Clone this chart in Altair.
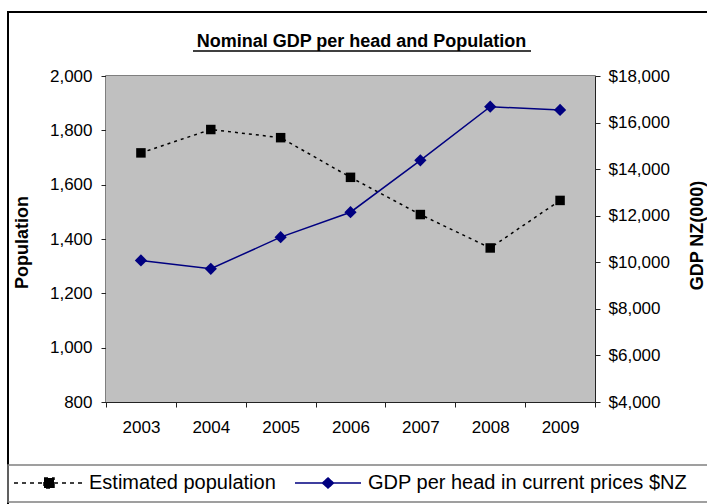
import altair as alt
import pandas as pd

years = ["2003", "2004", "2005", "2006", "2007", "2008", "2009"]
population = [1717, 1803, 1773, 1627, 1490, 1367, 1542]
gdp_per_head = [10080, 9720, 11080, 12150, 14380, 16680, 16540]
series_names = ["Estimated population", "GDP per head in current prices $NZ"]
series_colors = ["#000000", "#000080"]
pop_ticks = [800, 1000, 1200, 1400, 1600, 1800, 2000]
gdp_ticks = [4000, 6000, 8000, 10000, 12000, 14000, 16000, 18000]

FONT = "Liberation Sans"
W, H = 489, 326

pop_df = pd.DataFrame({"Year": years, "Value": population, "Series": series_names[0]})
gdp_df = pd.DataFrame({"Year": years, "Value": gdp_per_head, "Series": series_names[1]})

x_enc = alt.X(
    "Year:O",
    scale=alt.Scale(type="band", paddingInner=0, paddingOuter=0),
    axis=alt.Axis(title=None, labelAngle=0, tickBand="extent", labelFontSize=17,
                  labelPadding=12, tickSize=5, labelColor="black",
                  domainColor="#222222", tickColor="#222222"),
)

POP_PATH = "M-3.5,0L3.5,0M-0.5,-0.5L0.5,-0.5L0.5,0.5L-0.5,0.5Z"
GDP_PATH = "M-3.3,0L3.3,0M0,-0.5L0.55,0L0,0.5L-0.55,0Z"

legend = alt.Legend(
    title=None, orient="none", legendX=-68, legendY=396, direction="horizontal",
    labelFontSize=20, labelFont=FONT, labelColor="black", symbolSize=400, labelLimit=500,
    labelOffset=29, columnPadding=16, symbolStrokeWidth=1.5, symbolOpacity=1,
)

left_axis = alt.Axis(
    title="Population", orient="left", values=pop_ticks, format=",d", grid=False,
    labelFontSize=17, labelColor="black", labelPadding=9, tickSize=5,
    domainColor="#222222", tickColor="#222222",
    titleFontSize=18, titleFontWeight="bold", titleColor="black", titleAngle=270,
    titleX=-84, titleY=166, titleBaseline="middle", titleAlign="center",
)
right_axis = alt.Axis(
    title="GDP NZ(000)", orient="right", values=gdp_ticks, format="$,d", grid=False,
    labelFontSize=17, labelColor="black", labelPadding=8, tickSize=5,
    domainColor="#222222", tickColor="#222222",
    titleFontSize=18, titleFontWeight="bold", titleColor="black", titleAngle=270,
    titleX=102, titleY=159, titleBaseline="middle", titleAlign="center",
)

y_pop = alt.Y("Value:Q", scale=alt.Scale(domain=[800, 2000], nice=False, zero=False), axis=left_axis)
y_gdp = alt.Y("Value:Q", scale=alt.Scale(domain=[4000, 18000], nice=False, zero=False), axis=right_axis)

pop_line = alt.Chart(pop_df).mark_line(color="black", strokeDash=[3, 4], strokeWidth=1.5).encode(x=x_enc, y=y_pop)
pop_pts = alt.Chart(pop_df).mark_point(shape="square", filled=True, size=90, opacity=1, color="black").encode(
    x=x_enc, y=y_pop)
gdp_line = alt.Chart(gdp_df).mark_line(color="#000080", strokeWidth=1.5).encode(x=x_enc, y=y_gdp)
gdp_pts = alt.Chart(gdp_df).mark_point(shape="diamond", filled=True, size=150, opacity=1, color="#000080").encode(
    x=x_enc, y=y_gdp)

# legend-only layer (no visible marks: filtered to empty)
legend_layer = alt.Chart(alt.Data(values=[{"Series": s} for s in series_names])).transform_filter(
    "false").mark_point(filled=True, size=400, strokeWidth=1.5, opacity=1).encode(
    color=alt.Color("Series:N", scale=alt.Scale(domain=series_names, range=series_colors), legend=legend),
    stroke=alt.Stroke("Series:N", scale=alt.Scale(domain=series_names, range=series_colors), legend=legend),
    shape=alt.Shape("Series:N", scale=alt.Scale(domain=series_names, range=[POP_PATH, GDP_PATH]), legend=legend),
    strokeDash=alt.StrokeDash("Series:N", scale=alt.Scale(domain=series_names, range=[[4, 4], [1, 0]]), legend=legend),
)

one = alt.Data(values=[{"k": 1}])
plot_bg = alt.Chart(one).mark_rect(fill="#C0C0C0").encode(
    x=alt.value(0), x2=alt.value(W), y=alt.value(0), y2=alt.value(H))
frame = alt.Chart(one).mark_rect(filled=False, stroke="black", strokeWidth=2).encode(
    x=alt.value(-98), x2=alt.value(700), y=alt.value(-64), y2=alt.value(500))
legend_box = alt.Chart(one).mark_rect(filled=False, stroke="#808080", strokeWidth=1.5).encode(
    x=alt.value(-98), x2=alt.value(700), y=alt.value(389), y2=alt.value(426))
underline = alt.Chart(one).mark_rule(color="black", strokeWidth=1.5).encode(
    x=alt.value(87), x2=alt.value(425), y=alt.value(-25))

chart = alt.layer(
    plot_bg, frame, legend_box, underline,
    alt.layer(pop_line, pop_pts),
    alt.layer(gdp_line, gdp_pts),
    legend_layer,
).resolve_scale(y="independent").properties(
    width=W, height=H,
    title=alt.TitleParams("Nominal GDP per head and Population", fontSize=18, fontWeight="bold",
                          font=FONT, color="black", anchor="middle", dx=11, dy=82, offset=28,
                          frame="group", baseline="alphabetic"),
    autosize=alt.AutoSizeParams(type="none"),
    padding={"left": 106, "top": 76, "right": 112, "bottom": 102},
).configure(font=FONT, background="white").configure_view(
    fill="#C0C0C0", stroke="#555555", strokeWidth=1.5)

chart.save("out.html", embed_options={"renderer": "svg", "actions": False})
